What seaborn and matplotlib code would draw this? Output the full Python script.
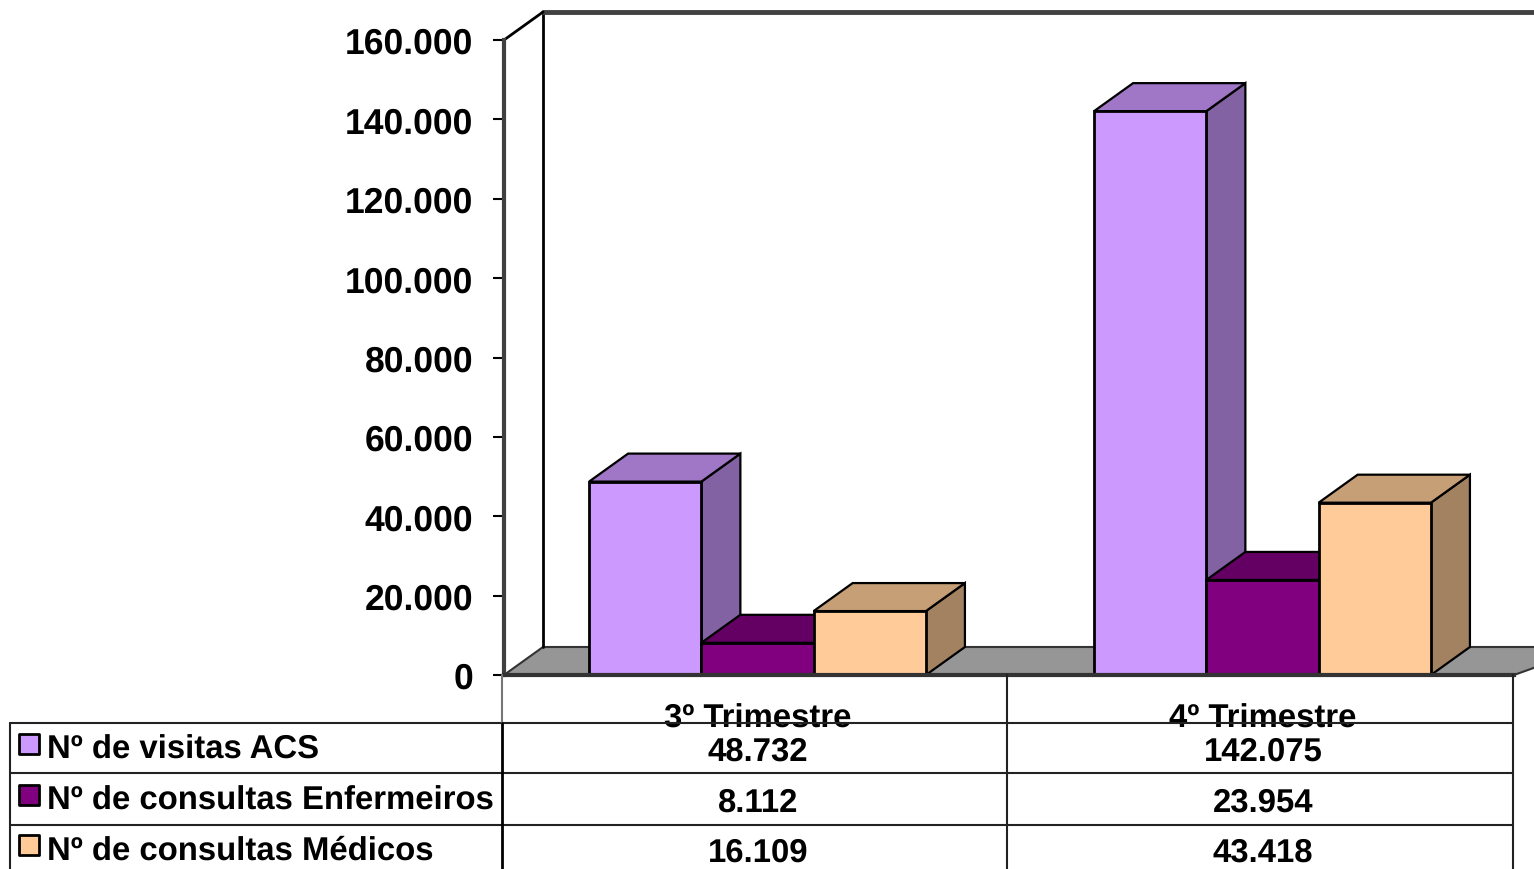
import matplotlib
matplotlib.use('Agg')
import matplotlib.pyplot as plt
import pandas as pd
import seaborn as sns
from matplotlib.patches import Polygon

categories = ['3º Trimestre', '4º Trimestre']
series_names = ['Nº de visitas ACS', 'Nº de consultas Enfermeiros', 'Nº de consultas Médicos']
visitas_acs = [48732, 142075]
consultas_enf = [8112, 23954]
consultas_med = [16109, 43418]
y_ticks = [0, 20000, 40000, 60000, 80000, 100000, 120000, 140000, 160000]

colors = ['#CC99FF', '#800080', '#FFCC99']
top_colors = ['#9F77C6', '#640064', '#C69F77']
side_colors = ['#8262A3', '#520052', '#A38262']

W, H = 1534, 870
LEFT, RIGHT, TOP, BOTTOM = 504, 1514, 41, 676
DX_PX, DY_PX = 39, 28

sns.set_theme(style='white')
plt.rcParams['font.family'] = ['Liberation Sans', 'DejaVu Sans']
plt.rcParams['font.weight'] = 'bold'
plt.rcParams['text.hinting'] = 'none'


def fmt(v):
    return f'{v:,}'.replace(',', '.')


rows = []
for name, vals in zip(series_names, [visitas_acs, consultas_enf, consultas_med]):
    for cat, v in zip(categories, vals):
        rows.append({'trimestre': cat, 'serie': name, 'valor': v})
df = pd.DataFrame(rows)

fig = plt.figure(figsize=(W / 100, H / 100), dpi=100)
ax = fig.add_axes([LEFT / W, 1 - BOTTOM / H, (RIGHT - LEFT) / W, (BOTTOM - TOP) / H])
sns.barplot(data=df, x='trimestre', y='valor', hue='serie', hue_order=series_names,
            palette=colors, width=0.667, saturation=1, gap=0, legend=False,
            edgecolor='black', linewidth=2, ax=ax, zorder=5)
ax.set_ylim(0, 160000)
ax.set_xlim(-0.502, 1.498)

# depth of the fake 3d in data units
dx = DX_PX * 2 / (RIGHT - LEFT)
dy = DY_PX * 160000 / (BOTTOM - TOP)
x0, x1 = ax.get_xlim()

# floor and walls
ax.add_patch(Polygon([(x0, 0), (x0 + dx, dy), (x1 + 2 * dx, dy), (x1, 0)], closed=True,
                     facecolor='#969696', edgecolor='#333333', lw=1.5, clip_on=False, zorder=1))
ax.plot([x0 + dx, x0 + dx], [dy, 160000 + dy], color='black', lw=2, clip_on=False, zorder=2)
ax.plot([x0 + dx, x1 + 2 * dx], [160000 + dy, 160000 + dy], color='#404040', lw=3.5,
        clip_on=False, zorder=2)
ax.plot([x0, x0 + dx], [160000, 160000 + dy], color='black', lw=2, clip_on=False, zorder=2)

# sides and tops of the bars, left to right so each one overlaps the previous
faces = []
for s, cont in enumerate(ax.containers):
    for b in cont:
        faces.append((b.get_x(), s, b))
faces.sort(key=lambda f: f[0])
for i, (xa, s, b) in enumerate(faces):
    xb, h = xa + b.get_width(), b.get_height()
    z = 3 + i * 0.01
    ax.add_patch(Polygon([(xb, 0), (xb + dx, dy), (xb + dx, h + dy), (xb, h)], closed=True,
                         facecolor=side_colors[s], edgecolor='black', lw=1.6,
                         clip_on=False, zorder=z))
    ax.add_patch(Polygon([(xa, h), (xa + dx, h + dy), (xb + dx, h + dy), (xb, h)], closed=True,
                         facecolor=top_colors[s], edgecolor='black', lw=1.6,
                         clip_on=False, zorder=z))

ax.set_yticks(y_ticks)
ax.set_yticklabels([fmt(v) if v else '0' for v in y_ticks], fontsize=25.6, fontweight='bold', color='black')
ax.tick_params(axis='y', length=8, width=1.5, color='black', left=True, pad=14)
ax.tick_params(axis='x', length=0, labelbottom=False)
ax.set_xlabel('')
ax.set_ylabel('')
for side in ['top', 'right']:
    ax.spines[side].set_visible(False)
ax.spines['left'].set_color('#404040')
ax.spines['left'].set_linewidth(3)
ax.spines['bottom'].set_color('#333333')
ax.spines['bottom'].set_linewidth(3)
for sp in ax.spines.values():
    sp.set_zorder(6)

# data table under the chart, pixel coords
tb = fig.add_axes([0, 0, 1, 1], facecolor='none')
tb.set_xlim(0, W)
tb.set_ylim(H, 0)
tb.axis('off')
col_x = [502, 1007, 1513]
row_y = [724, 774, 826, H]
for y in row_y[:3]:
    tb.plot([10, col_x[-1]], [y, y], color='#222222', lw=1.5)
tb.plot([10, 10], [row_y[0], H], color='#222222', lw=1.5)
tb.plot([col_x[0], col_x[0]], [BOTTOM, row_y[0]], color='#777777', lw=1.5)
tb.plot([col_x[0], col_x[0]], [row_y[0], H], color='black', lw=2)
for x in col_x[1:]:
    tb.plot([x, x], [BOTTOM, H], color='#222222', lw=1.5)

center = [758, 1263]
for x, cat in zip(center, categories):
    tb.text(x, 719, cat, ha='center', va='center', fontsize=23.7, fontweight='bold', color='black', zorder=0)

text_y = [750, 801, 851]
for y, name, vals, col in zip(text_y, series_names, [visitas_acs, consultas_enf, consultas_med], colors):
    tb.scatter([29], [y - 5], marker='s', s=210, facecolor=col, edgecolor='black', linewidth=2)
    tb.text(47, y, name, ha='left', va='center', fontsize=23.7, fontweight='bold', color='black')
    for x, v in zip(center, vals):
        tb.text(x, y + 2, fmt(v), ha='center', va='center', fontsize=23.7, fontweight='bold', color='black')

fig.savefig('out.png', dpi=100, facecolor='white')
